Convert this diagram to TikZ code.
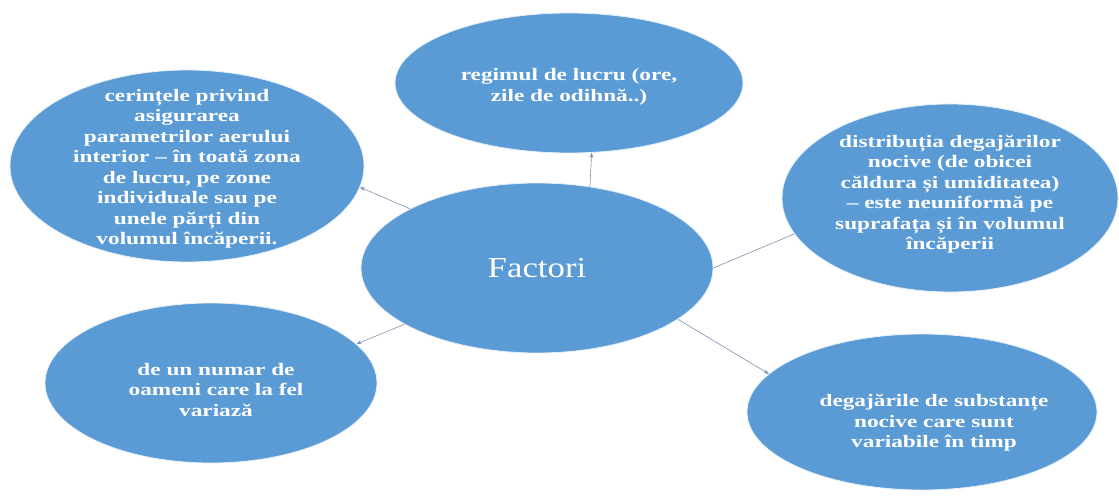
\documentclass[tikz,border=0pt]{standalone}
\usepackage{fontspec}
\setmainfont{Liberation Serif}
\newfontfamily\bubblefont{Liberation Serif}[FakeStretch=1.33]
\newfontfamily\centerfont{Liberation Serif}[FakeStretch=1.2]
\usetikzlibrary{shapes.geometric, arrows.meta}
\definecolor{bubbleBlue}{RGB}{91, 155, 213}
\definecolor{linkGray}{RGB}{125, 145, 175}

\begin{document}
\begin{tikzpicture}[x=1bp, y=-1bp,
    bubble/.style={ellipse, fill=bubbleBlue, draw=white!85!bubbleBlue, line width=0.8bp, inner sep=0pt},
    bubbletext/.style={text=white, align=center, inner sep=0pt, font=\bubblefont\bfseries\fontsize{17.5bp}{20.5bp}\selectfont},
    link/.style={linkGray, line width=0.6bp, -{Stealth[length=5bp, width=4bp]}}]
  \useasboundingbox (0,0) rectangle (1119,496);
  \node[bubble, minimum width=348bp, minimum height=140bp,
    label={[bubbletext, yshift=-4bp]center:{regimul de lucru (ore,\\zile de odihnă..)}}] (reg) at (569,83) {};
  \node[bubble, minimum width=354bp, minimum height=192bp,
    label={[bubbletext, yshift=-3bp]center:{cerințele privind\\asigurarea\\parametrilor aerului\\interior – în toată zona\\de lucru, pe zone\\individuale sau pe\\unele părți din\\volumul încăperii.}}] (req) at (187,166) {};
  \node[bubble, minimum width=336bp, minimum height=188bp,
    label={[bubbletext, yshift=4bp]center:{distribuția degajărilor\\nocive (de obicei\\căldura și umiditatea)\\– este neuniformă pe\\suprafața și în volumul\\încăperii}}] (dist) at (950,198) {};
  \node[bubble, minimum width=352bp, minimum height=170bp,
    label={[text=white, font=\centerfont\fontsize{29bp}{34bp}\selectfont]center:Factori}] (fac) at (537,268) {};
  \node[bubble, minimum width=332bp, minimum height=160bp,
    label={[bubbletext, yshift=-7bp, xshift=5bp]center:{de un numar de\\oameni care la fel\\variază}}] (ppl) at (211,383) {};
  \node[bubble, minimum width=350bp, minimum height=156bp,
    label={[bubbletext, yshift=-11bp, xshift=12bp]center:{degajările de substanțe\\nocive care sunt\\variabile în timp}}] (subst) at (922,412) {};

  \draw[link] (fac.57) -- (reg.-72);
  \draw[link] (fac.155) -- (req.-7);
  \draw[linkGray, line width=0.6bp] (fac.east) -- (dist.-167.5);
  \draw[link] (fac.203.7) -- (ppl.15.7);
  \draw[link] (fac.-20) -- (subst.166);
\end{tikzpicture}
\end{document}
